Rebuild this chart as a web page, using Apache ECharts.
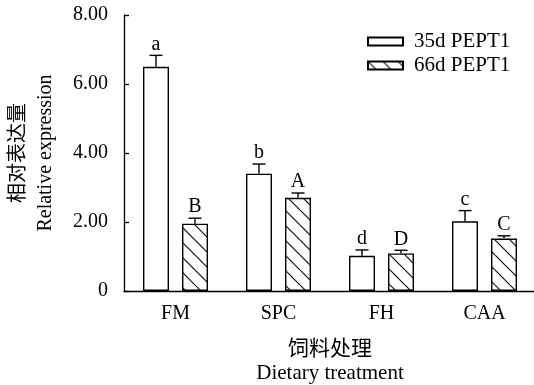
<!DOCTYPE html>
<html>
<head>
<meta charset="utf-8">
<script src="https://cdn.jsdelivr.net/npm/echarts@6/dist/echarts.min.js"></script>
<style>
html,body{margin:0;padding:0;background:#fff;}
#chart{width:534px;height:385px;}
</style>
</head>
<body>
<div id="chart"></div>
<script>
var categories = ['FM', 'SPC', 'FH', 'CAA'];
var seriesNames = ['35d PEPT1', '66d PEPT1'];
var values35 = [6.50, 3.40, 1.02, 2.02];
var errors35 = [0.33, 0.28, 0.17, 0.31];
var letters35 = ['a', 'b', 'd', 'c'];
var values66 = [1.95, 2.70, 1.09, 1.52];
var errors66 = [0.16, 0.14, 0.09, 0.08];
var letters66 = ['B', 'A', 'D', 'C'];
var yTickLabels = ['0', '2.00', '4.00', '6.00', '8.00'];

var FONT = '"Liberation Serif", "Times New Roman", "Noto Sans CJK SC", serif';

function makeHatch() {
  var c = document.createElement('canvas');
  c.width = 15; c.height = 15;
  var ctx = c.getContext('2d');
  ctx.fillStyle = '#fff';
  ctx.fillRect(0, 0, 15, 15);
  ctx.strokeStyle = '#111';
  ctx.lineWidth = 1.2;
  for (var k = -15; k <= 15; k += 15) {
    ctx.beginPath();
    ctx.moveTo(k, 0);
    ctx.lineTo(k + 15, 15);
    ctx.stroke();
  }
  return c;
}
var hatch = makeHatch();

var chart = echarts.init(document.getElementById('chart'), null, {renderer: 'canvas'});

var BAR_W = 26;
var OFFSET = 19.5;

function errData(vals, errs, letters) {
  return vals.map(function (v, i) { return [i, v, errs[i], letters[i]]; });
}

function errRender(offset) {
  return function (params, api) {
    var i = api.value(0);
    var v = api.value(1);
    var e = api.value(2);
    var letter = api.value(3);
    var p0 = api.coord([i, v]);
    var p1 = api.coord([i, v + e]);
    var x = p0[0] + offset;
    var half = 6.5;
    return {
      type: 'group',
      children: [
        {type: 'line', shape: {x1: x, y1: p0[1], x2: x, y2: p1[1]}, style: {stroke: '#000', lineWidth: 1.4}},
        {type: 'line', shape: {x1: x - half, y1: p1[1], x2: x + half, y2: p1[1]}, style: {stroke: '#000', lineWidth: 1.4}},
        {type: 'text', style: {text: letter, x: x, y: p1[1] - 1, textAlign: 'center', textVerticalAlign: 'bottom', font: '20px ' + FONT, fill: '#000'}}
      ]
    };
  };
}

var option = {
  animation: false,
  backgroundColor: '#fff',
  grid: {left: 124, top: 15, width: 412, height: 276, containLabel: false, outerBoundsMode: 'none'},
  legend: {
    orient: 'vertical',
    left: 362,
    top: 26,
    icon: 'rect',
    itemWidth: 35,
    itemHeight: 8,
    itemGap: 3,
    data: seriesNames,
    textStyle: {fontFamily: FONT, fontSize: 21, color: '#000', padding: [0, 0, 0, 6], lineHeight: 20}
  },
  xAxis: {
    type: 'category',
    data: categories,
    boundaryGap: true,
    axisLine: {lineStyle: {color: '#000', width: 1.3}},
    axisTick: {inside: true, length: 5, alignWithLabel: true, lineStyle: {color: '#000', width: 1.3}},
    axisLabel: {fontFamily: FONT, fontSize: 20, color: '#000', margin: 13},
    name: '饲料处理\nDietary treatment',
    nameLocation: 'middle',
    nameGap: 46,
    nameTextStyle: {fontFamily: FONT, fontSize: 21, color: '#000', lineHeight: 24}
  },
  yAxis: {
    type: 'value',
    min: 0, max: 8, interval: 2,
    axisLine: {show: true, lineStyle: {color: '#000', width: 1.3}},
    axisTick: {show: true, inside: true, length: 5, lineStyle: {color: '#000', width: 1.3}},
    splitLine: {show: false},
    axisLabel: {
      fontFamily: FONT, fontSize: 20, color: '#000', margin: 16,
      formatter: function (v) { return yTickLabels[Math.round(v / 2)]; }
    },
    name: '相对表达量\nRelative expression',
    nameLocation: 'middle',
    nameRotate: 90,
    nameGap: 65,
    nameTextStyle: {fontFamily: FONT, fontSize: 20, color: '#000', lineHeight: 27}
  },
  series: [
    {
      name: seriesNames[0], type: 'bar', data: values35, barWidth: BAR_W, barGap: '50%',
      itemStyle: {color: '#fff', borderColor: '#000', borderWidth: 1.4}
    },
    {
      name: seriesNames[1], type: 'bar', data: values66, barWidth: BAR_W, barGap: '50%',
      itemStyle: {color: {image: hatch, repeat: 'repeat'}, borderColor: '#000', borderWidth: 1.4}
    },
    {type: 'custom', data: errData(values35, errors35, letters35), renderItem: errRender(-OFFSET), z: 5, silent: true},
    {type: 'custom', data: errData(values66, errors66, letters66), renderItem: errRender(OFFSET), z: 5, silent: true}
  ]
};
chart.setOption(option);
</script>
</body>
</html>
